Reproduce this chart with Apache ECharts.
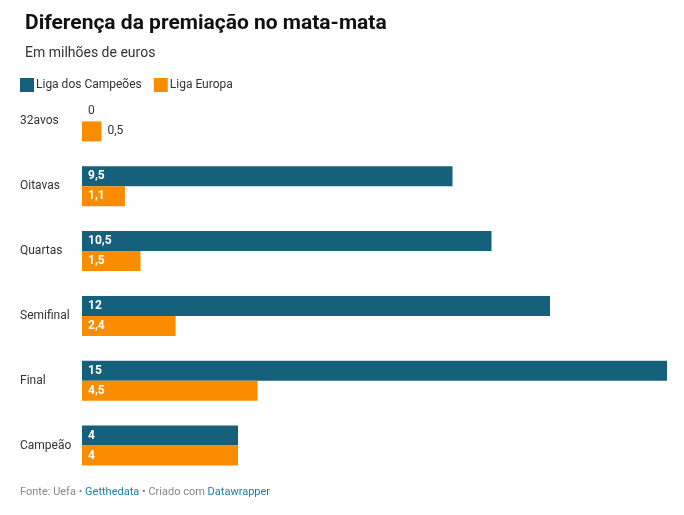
<!DOCTYPE html>
<html><head><meta charset="utf-8">
<script src="https://cdn.jsdelivr.net/npm/echarts@6/dist/echarts.min.js"></script>
<style>html,body{margin:0;background:#fff}#c{width:684px;height:515px}</style>
</head><body><div id="c"></div>
<script>
// dados
const categorias = ['32avos', 'Oitavas', 'Quartas', 'Semifinal', 'Final', 'Campeão'];
const ligaCampeoes = [0, 9.5, 10.5, 12, 15, 4];
const ligaEuropa = [0.5, 1.1, 1.5, 2.4, 4.5, 4];

const fmt = v => String(v).replace('.', ',');
const FONT = 'Roboto';

function dados(vals) {
    return vals.map(v => {
        const pequeno = v < 1;
        return {
            value: v,
            label: pequeno
                ? { position: v === 0 ? 'insideLeft' : 'right', color: '#333', fontWeight: 'normal', offset: v === 0 ? [0, 0] : [0, 0] }
                : {}
        };
    });
}

const chart = echarts.init(document.getElementById('c'));
chart.setOption({
    animation: false,
    textStyle: { fontFamily: FONT },
    title: {
        text: 'Diferença da premiação no mata-mata',
        subtext: 'Em milhões de euros',
        left: 20, top: 8, itemGap: 12,
        textStyle: { fontSize: 21, fontWeight: 'bold', color: '#111', fontFamily: FONT },
        subtextStyle: { fontSize: 14, color: '#333', fontFamily: FONT }
    },
    legend: {
        left: 15, top: 73, itemWidth: 14, itemHeight: 14, itemGap: 12,
        icon: 'rect',
        textStyle: { fontSize: 12, color: '#333', padding: [0, 0, 0, -3] },
        data: ['Liga dos Campeões', 'Liga Europa']
    },
    grid: { left: 82, right: 17, top: 89, bottom: 37 },
    xAxis: { type: 'value', min: 0, max: 15, show: false },
    yAxis: {
        type: 'category', data: categorias, inverse: true,
        axisLine: { show: false }, axisTick: { show: false },
        axisLabel: { align: 'left', margin: 62, fontSize: 12, color: '#333' }
    },
    series: [
        {
            name: 'Liga dos Campeões', type: 'bar', data: dados(ligaCampeoes),
            barWidth: 20, barGap: '0%', itemStyle: { color: '#15607a' },
            label: { show: true, position: 'insideLeft', color: '#fff', fontWeight: 'bold', fontSize: 12, formatter: p => fmt(p.value), distance: 6 }
        },
        {
            name: 'Liga Europa', type: 'bar', data: dados(ligaEuropa),
            barWidth: 20, itemStyle: { color: '#fa8c00' },
            label: { show: true, position: 'insideLeft', color: '#fff', fontWeight: 'bold', fontSize: 12, formatter: p => fmt(p.value), distance: 6 }
        }
    ],
    graphic: [{
        type: 'text', left: 20, top: 487,
        style: {
            text: '{g|Fonte: Uefa • }{b|Getthedata}{g| • Criado com }{b|Datawrapper}',
            rich: {
                g: { fill: '#888', fontSize: 11, fontFamily: FONT },
                b: { fill: '#1d81a2', fontSize: 11, fontFamily: FONT }
            }
        }
    }]
});
</script></body></html>
